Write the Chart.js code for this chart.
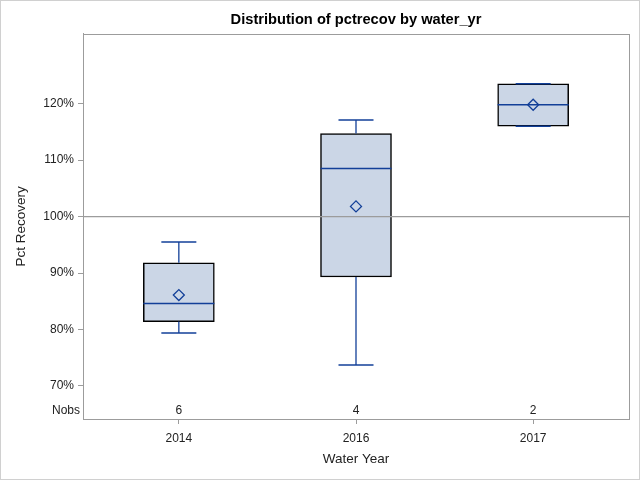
<!DOCTYPE html>
<html>
<head>
<meta charset="utf-8">
<script src="https://cdn.jsdelivr.net/npm/chart.js@4.4.1/dist/chart.umd.min.js"></script>
<style>
  html, body { margin: 0; padding: 0; background: #fff; }
  #wrap { width: 640px; height: 480px; }
</style>
</head>
<body>
<div id="wrap"><canvas id="grafica" width="640" height="480"></canvas></div>
<script>
// datos
var anios = ["2014", "2016", "2017"];
var nobs = [6, 4, 2];
var minimos = [79.4, 73.7, 116.0];
var q1 = [81.4, 89.3, 116.0];
var medianas = [84.6, 108.5, 119.8];
var q3 = [91.8, 114.7, 123.5];
var maximos = [95.5, 117.1, 123.5];
var medias = [86.1, 101.8, 119.8];
var ticksY = [70, 80, 90, 100, 110, 120];
var lineaReferencia = 100;

var AZUL = "#123f98";
var GRIS = "#9c9c9c";
var FUENTE = "'Liberation Sans', Arial, sans-serif";

var cajas = [], bigotes = [], topes = [], puntosMedia = [], puntosMediana = [];
for (let i = 0; i < anios.length; i++) {
    cajas.push({ x: i, y: [q1[i], q3[i]] });
    bigotes.push({ x: i, y: q3[i] }, { x: i, y: maximos[i] }, { x: i, y: null });
    bigotes.push({ x: i, y: minimos[i] }, { x: i, y: q1[i] }, { x: i, y: null });
    topes.push({ x: i, y: maximos[i] }, { x: i, y: minimos[i] });
    puntosMedia.push({ x: i, y: medias[i] });
    puntosMediana.push({ x: i, y: medianas[i] });
}

var xMin = -0.541, xMax = 2.541;

var pluginMarco = {
    id: "marco",
    beforeDraw: function (chart) {
        var ctx = chart.ctx;
        ctx.save();
        ctx.strokeStyle = "#d0d0d0";
        ctx.lineWidth = 1;
        ctx.strokeRect(0.5, 0.5, 639, 479);
        ctx.restore();
    },
    afterDraw: function (chart) {
        var ctx = chart.ctx, a = chart.chartArea;
        var sx = chart.scales.x;
        ctx.save();
        ctx.strokeStyle = GRIS;
        ctx.lineWidth = 1;
        ctx.strokeRect(Math.round(a.left) + 0.5, Math.round(a.top) + 0.5,
            Math.round(a.right - a.left), Math.round(a.bottom - a.top));
        // fila Nobs
        ctx.font = "12px " + FUENTE;
        ctx.fillStyle = "#222";
        ctx.textBaseline = "middle";
        var yN = a.bottom - 8;
        ctx.textAlign = "right";
        ctx.fillText("Nobs", a.left - 3, yN);
        ctx.textAlign = "center";
        for (let i = 0; i < nobs.length; i++) {
            ctx.fillText(String(nobs[i]), sx.getPixelForValue(i), yN);
        }
        ctx.restore();
    }
};

new Chart(document.getElementById("grafica").getContext("2d"), {
    type: "bar",
    data: {
        datasets: [
            {
                type: "scatter", label: "media", data: puntosMedia, order: 0,
                pointStyle: "rectRot", pointRadius: 5.5, pointBorderWidth: 1.3,
                pointBorderColor: AZUL, pointBackgroundColor: "rgba(0,0,0,0)"
            },
            {
                type: "scatter", label: "mediana", data: puntosMediana, order: 1,
                pointStyle: "line", pointRadius: 35.5, pointBorderWidth: 1.5,
                pointBorderColor: AZUL
            },
            {
                type: "scatter", label: "topes", data: topes, order: 2,
                pointStyle: "line", pointRadius: 17.5, pointBorderWidth: 1.5,
                pointBorderColor: AZUL
            },
            {
                type: "line", label: "bigotes", data: bigotes, order: 3,
                borderColor: AZUL, borderWidth: 1.3, pointRadius: 0, spanGaps: false
            },
            {
                type: "line", label: "ref", order: 3.5,
                data: [{ x: xMin, y: lineaReferencia }, { x: xMax, y: lineaReferencia }],
                borderColor: GRIS, borderWidth: 1.2, pointRadius: 0
            },
            {
                type: "bar", label: "caja", data: cajas, order: 4,
                backgroundColor: "#cbd6e6", borderColor: "#000", borderWidth: 1.5,
                borderSkipped: false, barThickness: 71
            }
        ]
    },
    options: {
        responsive: false,
        animation: false,
        events: [],
        layout: { autoPadding: false, padding: { left: 0, right: 11, top: 0, bottom: 0 } },
        plugins: {
            legend: { display: false },
            tooltip: { enabled: false },
            title: {
                display: true,
                fullSize: false,
                text: "Distribution of pctrecov by water_yr",
                color: "#000",
                font: { family: FUENTE, size: 14.67, weight: "bold" },
                padding: { top: 11, bottom: 5 }
            }
        },
        scales: {
            x: {
                type: "linear", min: xMin, max: xMax, offset: false,
                afterBuildTicks: function (s) { s.ticks = anios.map(function (a, i) { return { value: i }; }); },
                afterFit: function (s) { s.height = 61; s.paddingLeft = 0; s.paddingRight = 0; },
                ticks: {
                    color: "#222", padding: 7,
                    font: { family: FUENTE, size: 12 },
                    callback: function (v) { return anios[v]; }
                },
                grid: { offset: false, drawOnChartArea: false, drawTicks: true, tickLength: 5, color: GRIS },
                border: { color: GRIS },
                title: {
                    display: true, text: "Water Year", color: "#222",
                    font: { family: FUENTE, size: 13.5 }, padding: { top: 4, bottom: 13 }
                }
            },
            y: {
                type: "linear", min: 64.15, max: 132.4,
                afterBuildTicks: function (s) { s.ticks = ticksY.map(function (v) { return { value: v }; }); },
                afterFit: function (s) { s.width = 83; s.paddingTop = 0; s.paddingBottom = 0; },
                ticks: {
                    color: "#222", padding: 4,
                    font: { family: FUENTE, size: 12 },
                    callback: function (v) { return v + "%"; }
                },
                grid: { drawOnChartArea: false, drawTicks: true, tickLength: 5, color: GRIS },
                border: { color: GRIS },
                title: {
                    display: true, text: "Pct Recovery", color: "#222",
                    font: { family: FUENTE, size: 13.5 }, padding: { top: 13, bottom: 0 }
                }
            }
        }
    },
    plugins: [pluginMarco]
});
</script>
</body>
</html>
